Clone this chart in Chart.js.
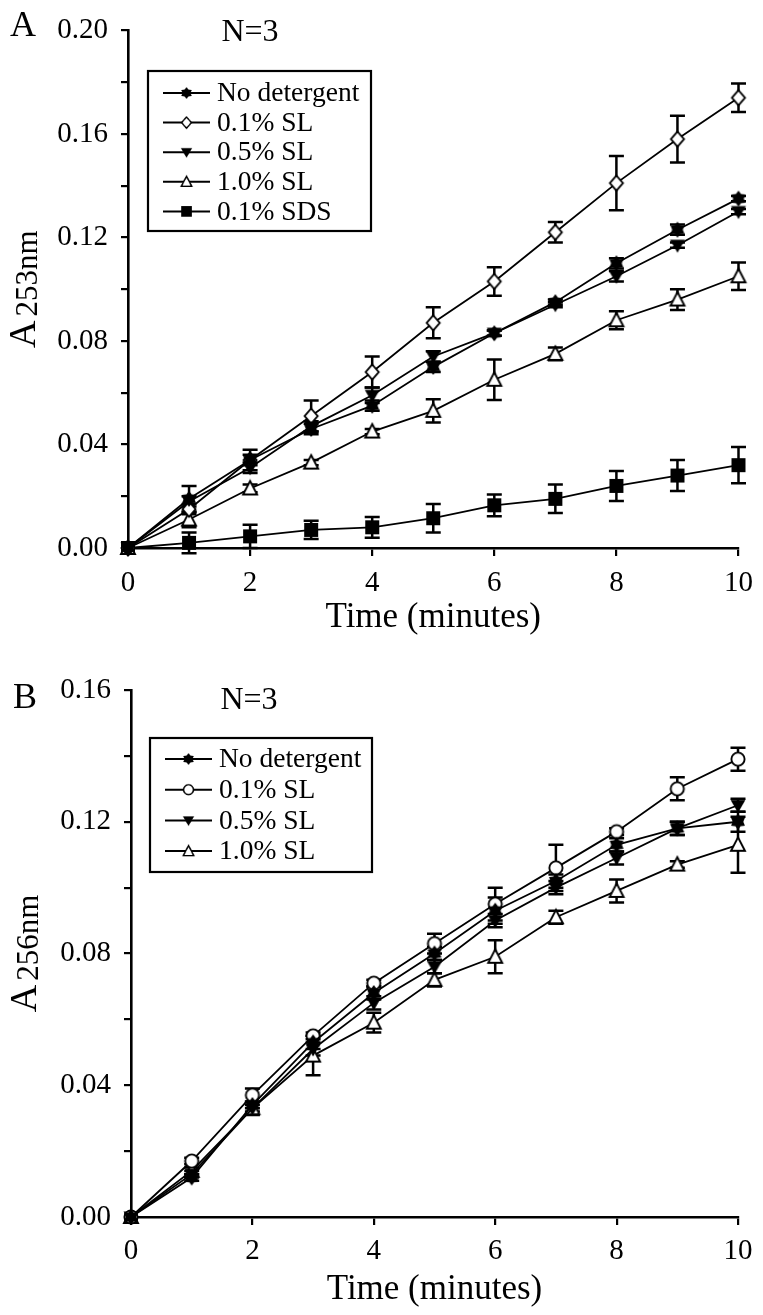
<!DOCTYPE html>
<html>
<head>
<meta charset="utf-8">
<title>Absorbance over time</title>
<script src="https://cdn.jsdelivr.net/npm/chart.js@4.4.1/dist/chart.umd.min.js"></script>
<style>
  html, body { margin: 0; padding: 0; background: #fff; }
  #wrap { position: relative; width: 763px; height: 1315px; }
  canvas { position: absolute; left: 0; }
</style>
</head>
<body>
<div id="wrap">
  <canvas id="chartA" width="763" height="657" style="top:0"></canvas>
  <canvas id="chartB" width="763" height="658" style="top:657px"></canvas>
</div>
<script>
const minutes = [0, 1, 2, 3, 4, 5, 6, 7, 8, 9, 10];
const xTicks = [0, 2, 4, 6, 8, 10];

// Panel A (A253nm)
const labelsA = ['No detergent', '0.1% SL', '0.5% SL', '1.0% SL', '0.1% SDS'];
const noDetA    = [0, 0.019, 0.034, 0.046, 0.055, 0.070, 0.083, 0.095, 0.110, 0.123, 0.135];
const noDetErrA = [0, 0.005, 0.004, 0.002, 0.002, 0.002, 0.001, 0.001, 0.002, 0.002, 0.001];
const sl01A     = [0, 0.015, 0.034, 0.051, 0.068, 0.087, 0.103, 0.122, 0.141, 0.158, 0.174];
const sl01ErrA  = [0, 0.002, 0.002, 0.006, 0.006, 0.006, 0.0055, 0.004, 0.0105, 0.009, 0.0055];
const sl05A     = [0, 0.018, 0.031, 0.047, 0.059, 0.074, 0.083, 0.094, 0.105, 0.117, 0.130];
const sl05ErrA  = [0, 0.002, 0.002, 0.002, 0.003, 0.002, 0.001, 0.001, 0.002, 0.001, 0.001];
const sl10A     = [0, 0.011, 0.023, 0.033, 0.045, 0.053, 0.065, 0.075, 0.088, 0.096, 0.105];
const sl10ErrA  = [0, 0.003, 0.0015, 0.001, 0.001, 0.0045, 0.0078, 0.0025, 0.0035, 0.004, 0.0053];
const sdsA      = [0, 0.002, 0.0045, 0.007, 0.008, 0.0115, 0.0165, 0.019, 0.024, 0.028, 0.032];
const sdsErrA   = [0, 0.004, 0.0045, 0.0035, 0.004, 0.0055, 0.0042, 0.0055, 0.0058, 0.006, 0.007];

// Panel B (A256nm)
const labelsB = ['No detergent', '0.1% SL', '0.5% SL', '1.0% SL'];
const noDetB    = [0, 0.012, 0.034, 0.053, 0.068, 0.080, 0.093, 0.102, 0.113, 0.118, 0.120];
const noDetErrB = [0, 0.001, 0.001, 0.002, 0.002, 0.002, 0.004, 0.002, 0.002, 0.002, 0.003];
const sl01B     = [0, 0.017, 0.037, 0.055, 0.071, 0.083, 0.095, 0.106, 0.117, 0.130, 0.139];
const sl01ErrB  = [0, 0.001, 0.002, 0.001, 0.001, 0.003, 0.005, 0.007, 0.001, 0.0035, 0.0035];
const sl05B     = [0, 0.013, 0.033, 0.051, 0.065, 0.076, 0.090, 0.100, 0.109, 0.118, 0.125];
const sl05ErrB  = [0, 0.001, 0.001, 0.002, 0.002, 0.002, 0.002, 0.002, 0.002, 0.002, 0.002];
const sl10B     = [0, 0.014, 0.033, 0.049, 0.059, 0.072, 0.079, 0.091, 0.099, 0.107, 0.113];
const sl10ErrB  = [0, 0.001, 0.002, 0.006, 0.003, 0.002, 0.005, 0.002, 0.0035, 0.001, 0.0085];

const SERIF = '"Liberation Serif", "Times New Roman", serif';

// marker images, drawn once and used as pointStyle
function makeMarker(kind) {
  const c = document.createElement('canvas');
  c.width = 20; c.height = 20;
  const g = c.getContext('2d');
  const m = 10;
  g.lineWidth = 1.9;
  g.strokeStyle = '#000';
  g.fillStyle = '#000';
  g.beginPath();
  if (kind === 'star') {
    for (let i = 0; i < 12; i++) {
      const r = i % 2 === 0 ? 8 : 5.3;
      const a = -Math.PI / 2 + i * Math.PI / 6;
      const px = m + r * Math.cos(a), py = m + r * Math.sin(a);
      if (i === 0) g.moveTo(px, py); else g.lineTo(px, py);
    }
    g.closePath();
    g.fill();
  } else if (kind === 'diamond') {
    g.moveTo(m, m - 7.5); g.lineTo(m + 6.5, m); g.lineTo(m, m + 7.5); g.lineTo(m - 6.5, m);
    g.closePath();
    g.fillStyle = '#fff'; g.fill(); g.stroke();
  } else if (kind === 'circle') {
    g.arc(m, m, 6.6, 0, Math.PI * 2);
    g.fillStyle = '#fff'; g.fill(); g.stroke();
  } else if (kind === 'down') {
    g.moveTo(m - 7.5, m - 5.5); g.lineTo(m + 7.5, m - 5.5); g.lineTo(m, m + 7.5);
    g.closePath();
    g.fill();
  } else if (kind === 'up') {
    g.moveTo(m, m - 7.5); g.lineTo(m + 7, m + 6); g.lineTo(m - 7, m + 6);
    g.closePath();
    g.fillStyle = '#fff'; g.fill(); g.stroke();
  } else if (kind === 'square') {
    g.rect(m - 7, m - 7, 14, 14);
    g.fill();
  }
  return c;
}

const markers = {
  star: makeMarker('star'),
  diamond: makeMarker('diamond'),
  circle: makeMarker('circle'),
  down: makeMarker('down'),
  up: makeMarker('up'),
  square: makeMarker('square')
};

function series(label, values, errors, marker) {
  return {
    label,
    data: minutes.map((t, i) => ({ x: t, y: values[i] })),
    errors,
    borderColor: '#000',
    borderWidth: 1.8,
    pointStyle: markers[marker],
    pointRadius: 7,
    pointHoverRadius: 7,
    fill: false,
    tension: 0,
    clip: false
  };
}

// vertical error bars with caps, under the markers
const errorBars = {
  id: 'errorBars',
  beforeDatasetsDraw(chart) {
    const ctx = chart.ctx;
    const xs = chart.scales.x, ys = chart.scales.y;
    ctx.save();
    ctx.strokeStyle = '#000';
    ctx.lineWidth = 2.5;
    chart.data.datasets.forEach(ds => {
      ds.data.forEach((p, i) => {
        const e = ds.errors[i];
        if (!e) return;
        const x = xs.getPixelForValue(p.x);
        const top = ys.getPixelForValue(p.y + e);
        const bot = ys.getPixelForValue(p.y - e);
        ctx.beginPath();
        ctx.moveTo(x, top); ctx.lineTo(x, bot);
        ctx.moveTo(x - 7.5, top); ctx.lineTo(x + 7.5, top);
        ctx.moveTo(x - 7.5, bot); ctx.lineTo(x + 7.5, bot);
        ctx.stroke();
      });
    });
    ctx.restore();
  }
};

// panel letter, N=3, y title with subscript, boxed legend
const decorations = {
  id: 'decorations',
  afterDraw(chart, args, o) {
    const ctx = chart.ctx;
    ctx.save();
    ctx.fillStyle = '#000';
    ctx.textBaseline = 'alphabetic';

    ctx.textAlign = 'left';
    ctx.font = '36px ' + SERIF;
    ctx.fillText(o.letter, o.letterX, o.letterY);

    ctx.textAlign = 'center';
    ctx.font = '32px ' + SERIF;
    ctx.fillText('N=3', o.nX, o.nY);

    // rotated y title: "A" + subscript wavelength
    const cy = (chart.chartArea.top + chart.chartArea.bottom) / 2;
    ctx.font = '38px ' + SERIF;
    const wA = ctx.measureText('A').width;
    ctx.font = '31px ' + SERIF;
    const wSub = ctx.measureText(o.sub).width;
    const gap = 4;
    const total = wA + gap + wSub;
    ctx.translate(o.titleX, cy);
    ctx.rotate(-Math.PI / 2);
    ctx.textAlign = 'left';
    ctx.font = '38px ' + SERIF;
    ctx.fillText('A', -total / 2, 0);
    ctx.font = '31px ' + SERIF;
    ctx.fillText(o.sub, -total / 2 + wA + gap, 2);
    ctx.setTransform(1, 0, 0, 1, 0, 0);

    // legend box
    const lg = o.legend;
    ctx.lineWidth = 2.2;
    ctx.strokeStyle = '#000';
    ctx.strokeRect(lg.x, lg.y, lg.w, lg.h);
    ctx.font = '27.5px ' + SERIF;
    ctx.textAlign = 'left';
    ctx.textBaseline = 'middle';
    chart.data.datasets.forEach((ds, i) => {
      const ry = lg.firstRow + i * lg.rowGap;
      ctx.lineWidth = 2;
      ctx.beginPath();
      ctx.moveTo(lg.x + 15, ry);
      ctx.lineTo(lg.x + 62, ry);
      ctx.stroke();
      const img = ds.pointStyle;
      const s = 15;
      ctx.drawImage(img, lg.x + 38.5 - s / 2, ry - s / 2, s, s);
      ctx.fillText(ds.label, lg.x + 69, ry + 1);
    });
    ctx.restore();
  }
};

function makeChart(id, datasets, cfg) {
  return new Chart(document.getElementById(id), {
    type: 'line',
    data: { datasets },
    plugins: [errorBars, decorations],
    options: {
      responsive: false,
      animation: false,
      events: [],
      layout: { padding: { left: 0, top: cfg.top, right: cfg.right, bottom: 0 } },
      scales: {
        x: {
          type: 'linear',
          min: 0,
          max: 10,
          afterBuildTicks: s => { s.ticks = xTicks.map(v => ({ value: v })); },
          afterFit: s => { s.height = cfg.xHeight; },
          border: { color: '#000', width: 2.6 },
          grid: { drawOnChartArea: false, drawTicks: true, tickLength: 8, color: '#000', lineWidth: 2.2 },
          ticks: { color: '#000', font: { family: SERIF, size: 29 }, padding: cfg.xPad, maxRotation: 0 },
          title: {
            display: true,
            text: 'Time (minutes)',
            color: '#000',
            font: { family: SERIF, size: 35 },
            padding: { top: 0, bottom: cfg.titlePad }
          }
        },
        y: {
          min: 0,
          max: cfg.yMax,
          afterFit: s => { s.width = cfg.left; },
          border: { color: '#000', width: 2.6 },
          grid: { drawOnChartArea: false, drawTicks: true, tickLength: 7, color: '#000', lineWidth: 2.2 },
          ticks: {
            stepSize: 0.02,
            color: '#000',
            font: { family: SERIF, size: 29 },
            padding: 13,
            callback: (v, i) => (i % 2 === 0 ? v.toFixed(2) : '')
          }
        }
      },
      plugins: {
        legend: { display: false },
        tooltip: { enabled: false },
        decorations: cfg.deco
      }
    }
  });
}

makeChart('chartA', [
  series(labelsA[0], noDetA, noDetErrA, 'star'),
  series(labelsA[1], sl01A, sl01ErrA, 'diamond'),
  series(labelsA[2], sl05A, sl05ErrA, 'down'),
  series(labelsA[3], sl10A, sl10ErrA, 'up'),
  series(labelsA[4], sdsA, sdsErrA, 'square')
], {
  top: 17, right: 20, left: 128, xHeight: 109, yMax: 0.20, xPad: 10, titlePad: 18,
  deco: {
    letter: 'A', letterX: 10, letterY: 36,
    nX: 250, nY: 41,
    sub: '253nm', titleX: 35,
    legend: { x: 148, y: 71, w: 223, h: 160, firstRow: 93, rowGap: 29.6 }
  }
});

makeChart('chartB', [
  series(labelsB[0], noDetB, noDetErrB, 'star'),
  series(labelsB[1], sl01B, sl01ErrB, 'circle'),
  series(labelsB[2], sl05B, sl05ErrB, 'down'),
  series(labelsB[3], sl10B, sl10ErrB, 'up')
], {
  top: 33, right: 25, left: 131, xHeight: 98, yMax: 0.16, xPad: 9, titlePad: 4,
  deco: {
    letter: 'B', letterX: 13, letterY: 51,
    nX: 249, nY: 52,
    sub: '256nm', titleX: 36,
    legend: { x: 150, y: 81, w: 222, h: 134, firstRow: 102, rowGap: 30.7 }
  }
});
</script>
</body>
</html>
